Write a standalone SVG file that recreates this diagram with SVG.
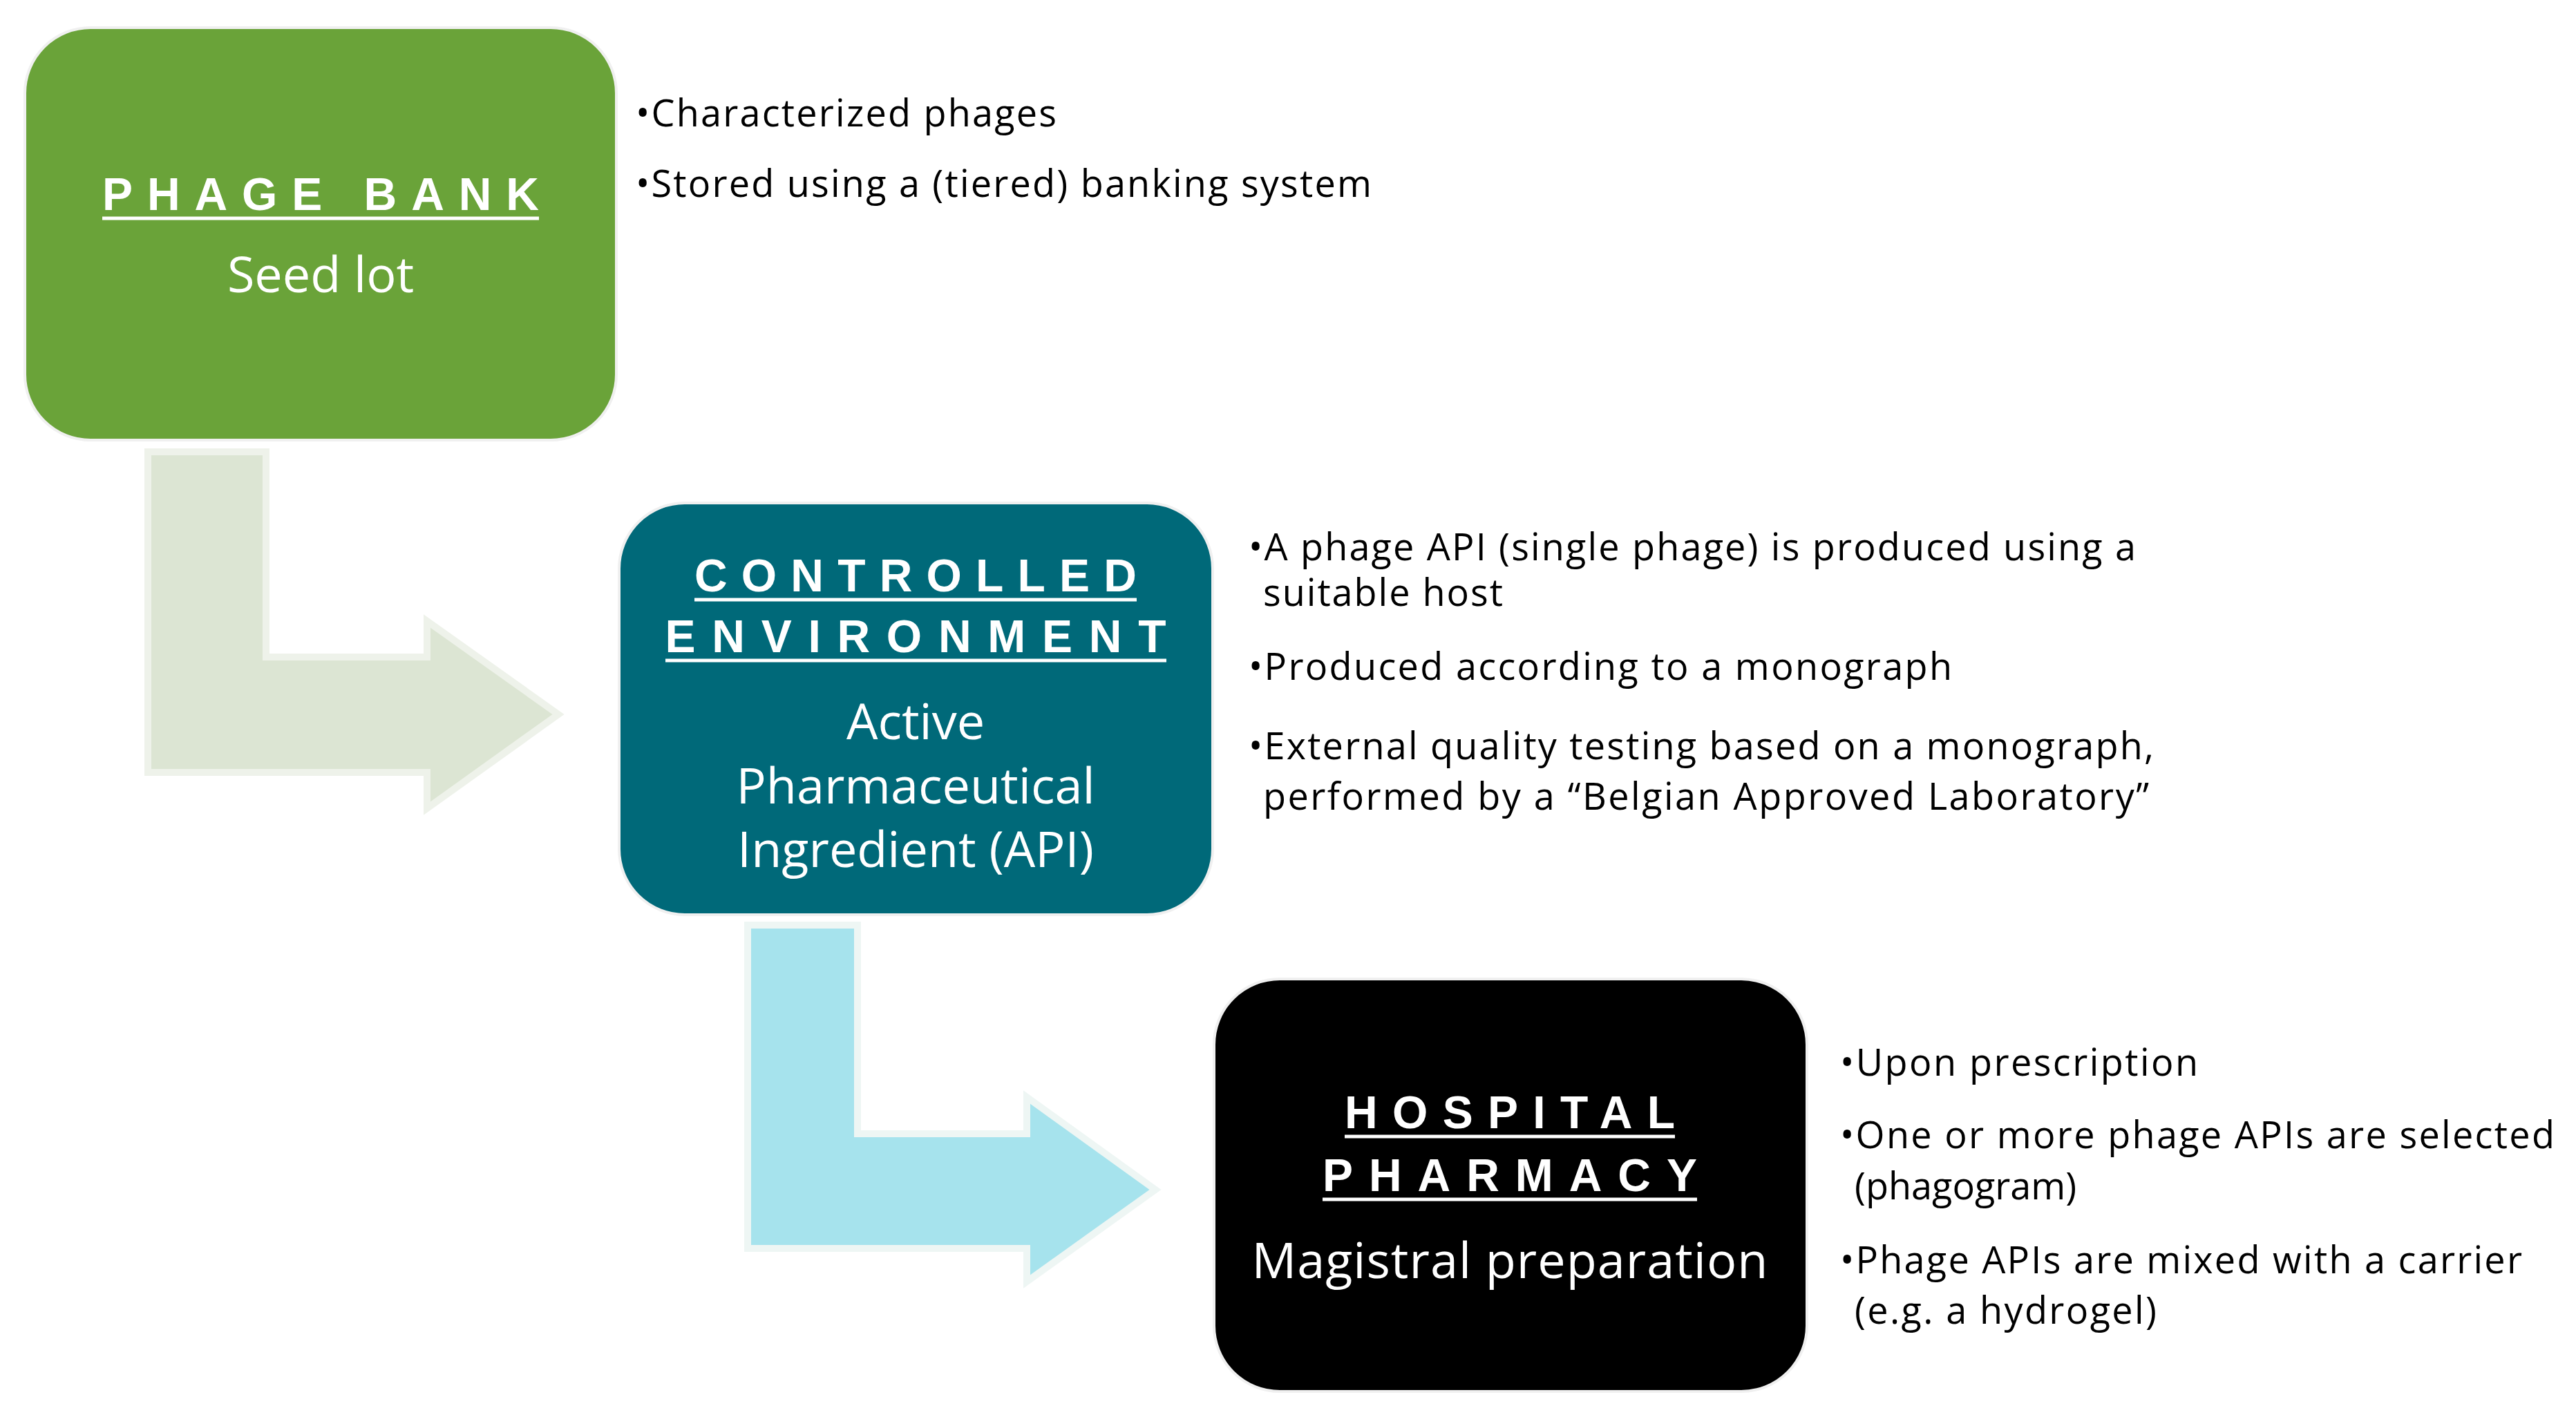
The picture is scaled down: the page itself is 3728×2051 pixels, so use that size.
<svg xmlns="http://www.w3.org/2000/svg" width="3728" height="2051" viewBox="0 0 3728 2051">
<style>
.box{stroke:#f0f0f0;stroke-width:4}
.t{font-family:"Liberation Sans",Arial,sans-serif;font-weight:bold;font-size:66px;fill:#fff;text-anchor:middle}
.u{stroke:#fff;stroke-width:5}
.s{font-family:"Open Sans","Liberation Sans",sans-serif;font-size:72px;fill:#fff;text-anchor:middle}
.b{font-family:"Open Sans","Liberation Sans",sans-serif;font-size:54px;fill:#000}
</style>
<rect width="3728" height="2051" fill="#fff"/>
<g id="connectors">
<polygon points="214,654 385,654 385,951 618,951 618,899 808,1034 618,1170 618,1118 214,1118" fill="#dce5d3" stroke="#eef2ea" stroke-width="10"/>
<polygon points="1082,1339 1241,1339 1241,1641 1486,1641 1486,1588 1672,1722 1486,1855 1486,1807 1082,1807" fill="#a6e3ed" stroke="#eef6f4" stroke-width="10"/>
</g>
<g id="phage-bank">
<rect class="box" x="36" y="40" width="856" height="597" rx="95" fill="#6aa339"/>
<text class="t" x="464" y="304" textLength="632" lengthAdjust="spacing">PHAGE BANK</text>
<line class="u" x1="148" y1="316" x2="780" y2="316"/>
<text class="s" x="464" y="423">Seed lot</text>
</g>
<g id="controlled-environment">
<rect class="box" x="896" y="728" width="859" height="596" rx="95" fill="#006979"/>
<text class="t" x="1325" y="856" textLength="640" lengthAdjust="spacing">CONTROLLED</text>
<line class="u" x1="1005" y1="868" x2="1645" y2="868"/>
<text class="t" x="1325" y="944" textLength="725" lengthAdjust="spacing">ENVIRONMENT</text>
<line class="u" x1="963" y1="956" x2="1688" y2="956"/>
<text class="s" x="1325" y="1070">Active</text>
<text class="s" x="1325" y="1163">Pharmaceutical</text>
<text class="s" x="1325" y="1255">Ingredient (API)</text>
</g>
<g id="hospital-pharmacy">
<rect class="box" x="1757" y="1417" width="858" height="597" rx="95" fill="#000"/>
<text class="t" x="2185" y="1633" textLength="478" lengthAdjust="spacing">HOSPITAL</text>
<line class="u" x1="1946" y1="1645" x2="2424" y2="1645"/>
<text class="t" x="2185" y="1724" textLength="542" lengthAdjust="spacing">PHARMACY</text>
<line class="u" x1="1914" y1="1736" x2="2456" y2="1736"/>
<text class="s" x="2185" y="1850" textLength="747">Magistral preparation</text>
</g>
<g id="notes">
<text class="b" x="920" y="183" textLength="609">•Characterized phages</text>
<text class="b" x="920" y="285" textLength="1065">•Stored using a (tiered) banking system</text>
<text class="b" x="1807" y="811" textLength="1284">•A phage API (single phage) is produced using a</text>
<text class="b" x="1828" y="877" textLength="347">suitable host</text>
<text class="b" x="1807" y="984" textLength="1018">•Produced according to a monograph</text>
<text class="b" x="1807" y="1099" textLength="1310">•External quality testing based on a monograph,</text>
<text class="b" x="1828" y="1172" textLength="1282">performed by a “Belgian Approved Laboratory”</text>
<text class="b" x="2663" y="1557" textLength="518">•Upon prescription</text>
<text class="b" x="2663" y="1662" textLength="1034">•One or more phage APIs are selected</text>
<text class="b" x="2684" y="1736">(phagogram)</text>
<text class="b" x="2663" y="1843" textLength="987">•Phage APIs are mixed with a carrier</text>
<text class="b" x="2684" y="1916" textLength="437">(e.g. a hydrogel)</text>
</g>
</svg>
